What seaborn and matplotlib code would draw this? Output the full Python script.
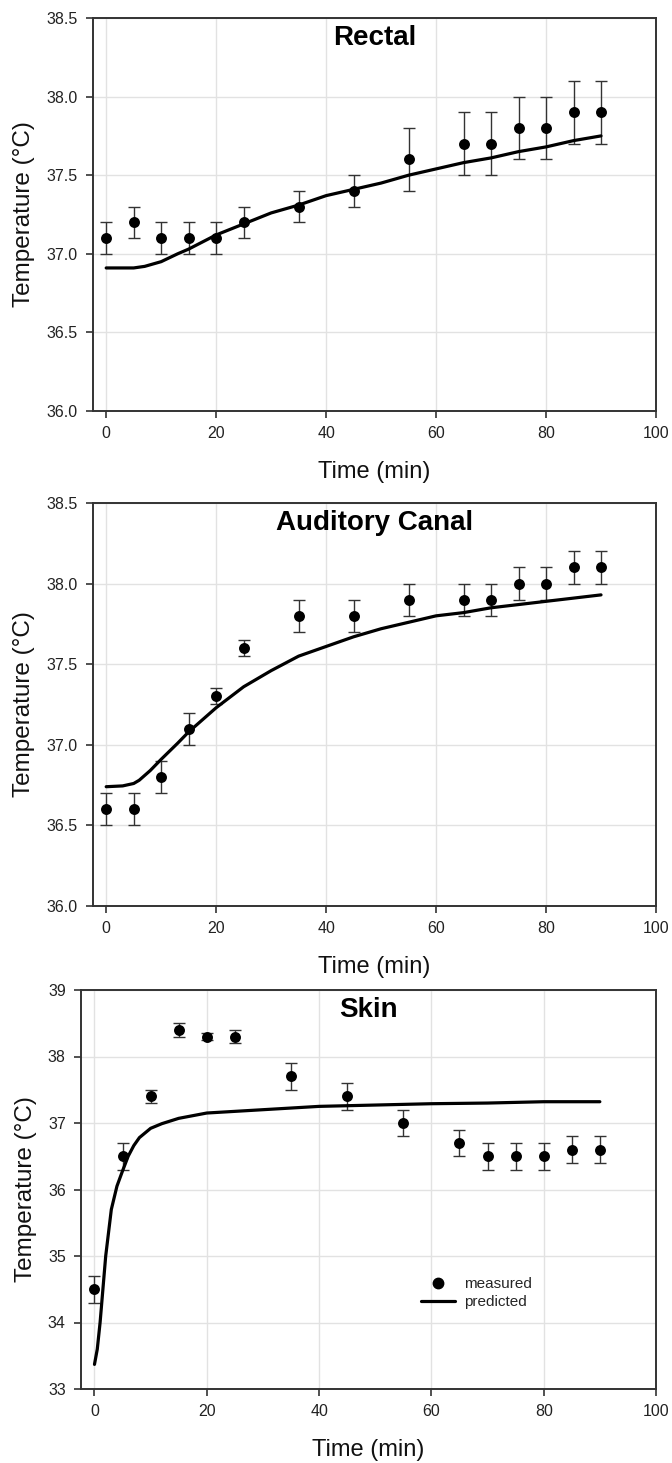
import numpy as np
import pandas as pd
import matplotlib
matplotlib.use("Agg")
import matplotlib.pyplot as plt
import seaborn as sns
from matplotlib.lines import Line2D

# ---------------- data ----------------
time_meas = [0, 5, 10, 15, 20, 25, 35, 45, 55, 65, 70, 75, 80, 85, 90]

rectal_mean = [37.1, 37.2, 37.1, 37.1, 37.1, 37.2, 37.3, 37.4, 37.6, 37.7, 37.7, 37.8, 37.8, 37.9, 37.9]
rectal_err = [0.1, 0.1, 0.1, 0.1, 0.1, 0.1, 0.1, 0.1, 0.2, 0.2, 0.2, 0.2, 0.2, 0.2, 0.2]
rectal_pred_t = [0, 5, 7, 10, 13, 15, 20, 25, 30, 35, 40, 45, 50, 55, 60, 65, 70, 75, 80, 85, 90]
rectal_pred = [36.91, 36.91, 36.92, 36.95, 37.00, 37.03, 37.12, 37.19, 37.26, 37.31, 37.37, 37.41,
               37.45, 37.50, 37.54, 37.58, 37.61, 37.65, 37.68, 37.72, 37.75]

aud_mean = [36.6, 36.6, 36.8, 37.1, 37.3, 37.6, 37.8, 37.8, 37.9, 37.9, 37.9, 38.0, 38.0, 38.1, 38.1]
aud_err = [0.1, 0.1, 0.1, 0.1, 0.05, 0.05, 0.1, 0.1, 0.1, 0.1, 0.1, 0.1, 0.1, 0.1, 0.1]
aud_pred_t = [0, 3, 5, 6, 8, 10, 13, 15, 20, 25, 30, 35, 40, 45, 50, 55, 60, 65, 70, 75, 80, 85, 90]
aud_pred = [36.74, 36.745, 36.76, 36.78, 36.84, 36.91, 37.01, 37.08, 37.23, 37.36, 37.46, 37.55,
            37.61, 37.67, 37.72, 37.76, 37.80, 37.82, 37.85, 37.87, 37.89, 37.91, 37.93]

skin_mean = [34.5, 36.5, 37.4, 38.4, 38.3, 38.3, 37.7, 37.4, 37.0, 36.7, 36.5, 36.5, 36.5, 36.6, 36.6]
skin_err = [0.2, 0.2, 0.1, 0.1, 0.05, 0.1, 0.2, 0.2, 0.2, 0.2, 0.2, 0.2, 0.2, 0.2, 0.2]
skin_pred_t = [0, 0.5, 1, 1.5, 2, 3, 4, 5, 6, 7, 8, 10, 12, 15, 20, 30, 40, 50, 60, 70, 80, 90]
skin_pred = [33.37, 33.6, 34.0, 34.5, 35.0, 35.7, 36.05, 36.28, 36.5, 36.66, 36.78, 36.92, 36.99,
             37.07, 37.15, 37.20, 37.25, 37.27, 37.29, 37.30, 37.32, 37.32]

titles = ["Rectal", "Auditory Canal", "Skin"]

# ---------------- style ----------------
sns.set_style("whitegrid")
plt.rcParams["font.family"] = ["Liberation Sans Narrow", "Liberation Sans", "DejaVu Sans"]

fig = plt.figure(figsize=(6.72, 14.63), dpi=100)
W, H = 672.0, 1463.0

def add_axes(left, right, top, bottom):
    return fig.add_axes([left / W, 1 - bottom / H, (right - left) / W, (bottom - top) / H])

axes = [
    add_axes(93, 656, 18, 411),
    add_axes(93, 656, 503, 906),
    add_axes(81, 656, 990, 1389),
]

panels = [
    (rectal_mean, rectal_err, rectal_pred_t, rectal_pred, (36.0, 38.5), np.arange(36.0, 38.51, 0.5), "{:.1f}"),
    (aud_mean, aud_err, aud_pred_t, aud_pred, (36.0, 38.5), np.arange(36.0, 38.51, 0.5), "{:.1f}"),
    (skin_mean, skin_err, skin_pred_t, skin_pred, (33, 39), np.arange(33, 39.1, 1), "{:.0f}"),
]

label_font = ["Liberation Sans", "DejaVu Sans"]

for ax, title, (mean, err, pt, pv, ylim, yticks, fmt) in zip(axes, titles, panels):
    dmeas = pd.DataFrame({"t": time_meas, "T": mean, "e": err})
    dpred = pd.DataFrame({"t": pt, "T": pv})
    ax.errorbar(dmeas["t"], dmeas["T"], yerr=dmeas["e"], fmt="none", ecolor="#333333",
                elinewidth=1.0, capsize=4.5, capthick=1.0, zorder=2)
    sns.lineplot(data=dpred, x="t", y="T", ax=ax, color="black", linewidth=2.3, zorder=3)
    sns.scatterplot(data=dmeas, x="t", y="T", ax=ax, color="black", s=62, edgecolor="black",
                    linewidth=0, zorder=4)
    ax.set_xlim(-2.4, 100)
    ax.set_ylim(*ylim)
    ax.set_xticks(np.arange(0, 101, 20))
    ax.set_yticks(yticks)
    ax.set_yticklabels([fmt.format(v) for v in yticks])
    ax.grid(True, color="#e2e2e2", linewidth=1.0)
    for s in ax.spines.values():
        s.set_color("#333333")
        s.set_linewidth(1.4)
    ax.tick_params(axis="both", which="major", direction="out", length=5, width=1.2,
                   color="#333333", labelsize=11.5, labelcolor="#222222", pad=6, bottom=True, left=True)
    ax.set_xlabel("Time (min)", fontsize=17, family=label_font, labelpad=14, color="#111111")
    ax.set_ylabel("Temperature (\u00b0C)", fontsize=17.5, family=label_font, labelpad=8, color="#111111")
    ax.text(0.5, 0.983, title, transform=ax.transAxes, ha="center", va="top",
            fontsize=20, fontweight="bold", family=label_font, color="black")

# legend in skin panel
ax = axes[2]
handles = [
    Line2D([], [], marker="o", color="black", linestyle="none", markersize=7.5),
    Line2D([], [], color="black", linewidth=2.3),
]
ax.legend(handles, ["measured", "predicted"], loc="upper left", bbox_to_anchor=(0.568, 0.315),
          frameon=False, fontsize=11, handlelength=2.2, handletextpad=0.6, labelspacing=0.25)

fig.savefig("out.png", dpi=100, facecolor="white")
